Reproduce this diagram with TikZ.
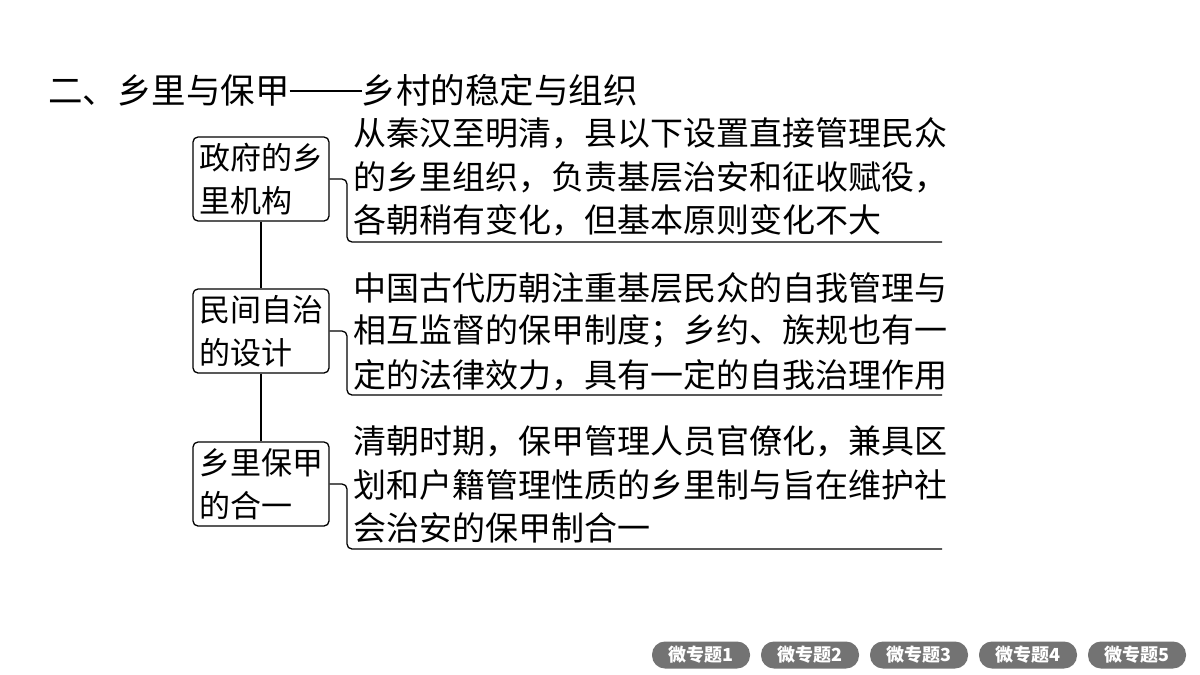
\documentclass[tikz,border=0pt]{standalone}
\usepackage{fontspec}
\newfontfamily\cjk{Noto Sans CJK SC}
\begin{document}
\begin{tikzpicture}[x=1pt,y=-1pt,
  box/.style={draw=black,line width=1.3pt,rounded corners=5pt,minimum width=136pt,minimum height=84pt,inner sep=0pt,align=left,font=\cjk\fontsize{31}{43}\selectfont},
  ln/.style={anchor=west,inner sep=0pt,font=\cjk\fontsize{33}{40}\selectfont},
  br/.style={draw=black,line width=1.3pt,rounded corners=5pt},
  btn/.style={fill=black!55,rounded corners=13pt,minimum width=98pt,minimum height=27pt,inner sep=0pt,text=white,font=\cjk\bfseries\fontsize{18}{20}\selectfont}]
\useasboundingbox (0,0) rectangle (1200,675);
\fill[white] (0,0) rectangle (1200,675);
\node[anchor=west,inner sep=0pt,font=\cjk\fontsize{34.5}{40}\selectfont] (title) at (48,90) {二、乡里与保甲\rule[0.33em]{72pt}{1.3pt}乡村的稳定与组织};
\node[box] (b1) at (261,179) {政府的乡\\里机构};
\node[box] (b2) at (261,331) {民间自治\\的设计};
\node[box] (b3) at (261,484) {乡里保甲\\的合一};
\draw[line width=1.3pt] (b1.south) -- (b2.north) (b2.south) -- (b3.north);
\coordinate (e1) at (942,242);
\coordinate (e2) at (942,395);
\coordinate (e3) at (942,549);
\draw[br] (b1.east) -- (347,179) -- (347,242) -- (e1);
\draw[br] (b2.east) -- (347,331) -- (347,395) -- (e2);
\draw[br] (b3.east) -- (347,484) -- (347,549) -- (e3);
\node[ln] (t11) at (353,133) {从秦汉至明清，县以下设置直接管理民众};
\node[ln] (t12) at (353,177) {的乡里组织，负责基层治安和征收赋役，};
\node[ln] (t13) at (353,220) {各朝稍有变化，但基本原则变化不大};
\node[ln] (t21) at (353,288) {中国古代历朝注重基层民众的自我管理与};
\node[ln] (t22) at (353,331) {相互监督的保甲制度；乡约、族规也有一};
\node[ln] (t23) at (353,375) {定的法律效力，具有一定的自我治理作用};
\node[ln] (t31) at (353,441) {清朝时期，保甲管理人员官僚化，兼具区};
\node[ln] (t32) at (353,485) {划和户籍管理性质的乡里制与旨在维护社};
\node[ln] (t33) at (353,528) {会治安的保甲制合一};
\node[btn] (m1) at (701,655) {微专题1};
\node[btn] (m2) at (810,655) {微专题2};
\node[btn] (m3) at (919,655) {微专题3};
\node[btn] (m4) at (1028,655) {微专题4};
\node[btn] (m5) at (1137,655) {微专题5};
\end{tikzpicture}
\end{document}
